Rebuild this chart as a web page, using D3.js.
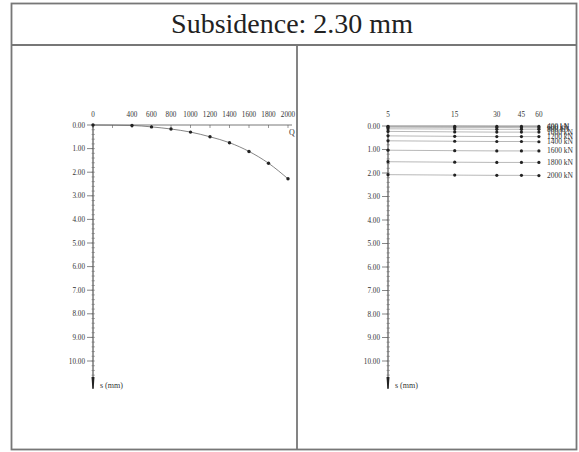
<!DOCTYPE html>
<html>
<head>
<meta charset="utf-8">
<script src="https://cdn.jsdelivr.net/npm/d3@7"></script>
<style>
  body { margin: 0; background: #fff; }
  svg { display: block; font-family: "Liberation Serif", "DejaVu Serif", serif; }
</style>
</head>
<body>
<div id="graf"></div>
<script>
// datos
titulo = 'Subsidence: 2.30 mm'

// carga Q (kN) vs asiento s (mm)
cargas = [0, 400, 600, 800, 1000, 1200, 1400, 1600, 1800, 2000]
asientos = [0, 0.02, 0.08, 0.17, 0.30, 0.50, 0.75, 1.12, 1.62, 2.28]
ticksQ = [0, 200, 400, 600, 800, 1000, 1200, 1400, 1600, 1800, 2000]
labelsQ = [0, 400, 600, 800, 1000, 1200, 1400, 1600, 1800, 2000]

// tiempo (min) vs asiento para cada escalon de carga
tiempos = [5, 15, 30, 45, 60]
ticksT = [5, 15, 30, 45, 60, 120]
escalones = ['400 kN', '600 kN', '800 kN', '1000 kN', '1200 kN', '1400 kN', '1600 kN', '1800 kN', '2000 kN']
s400 = [0.01, 0.01, 0.02, 0.02, 0.02]
s600 = [0.05, 0.06, 0.06, 0.07, 0.07]
s800 = [0.12, 0.13, 0.14, 0.14, 0.14]
s1000 = [0.23, 0.25, 0.26, 0.26, 0.26]
s1200 = [0.42, 0.44, 0.45, 0.45, 0.45]
s1400 = [0.63, 0.65, 0.66, 0.66, 0.67]
s1600 = [1.03, 1.05, 1.06, 1.06, 1.06]
s1800 = [1.52, 1.54, 1.55, 1.55, 1.55]
s2000 = [2.07, 2.09, 2.10, 2.10, 2.11]
seriesT = [s400, s600, s800, s1000, s1200, s1400, s1600, s1800, s2000]

ticksS = d3.range(0, 11)

// I. Configuracion
ancho_total = 579
alto_total = 452

svg = d3.select('#graf').append('svg')
        .attr('width', ancho_total)
        .attr('height', alto_total)

// marco
marco = svg.append('g')
        .attr('fill', 'none')
        .attr('stroke', '#777')
        .attr('stroke-width', 1.8)
marco.append('rect').attr('x', 11.5).attr('y', 3.5).attr('width', 565).attr('height', 446)
marco.append('line').attr('x1', 11.5).attr('x2', 576.5).attr('y1', 45).attr('y2', 45)
marco.append('line').attr('x1', 297).attr('x2', 297).attr('y1', 45).attr('y2', 449.5)

svg.append('text')
        .attr('x', 292)
        .attr('y', 33)
        .attr('text-anchor', 'middle')
        .attr('font-size', 28)
        .attr('fill', '#222')
        .text(titulo)

// eje vertical de asientos (comun a los dos graficos)
function ejeS(g, x0, y) {
        g.append('line')
                .attr('x1', x0).attr('x2', x0)
                .attr('y1', y(0)).attr('y2', 388)
                .attr('stroke', '#333').attr('stroke-width', 1)
        // flecha
        g.append('path')
                .attr('d', `M${x0 - 1.5},377 L${x0 + 1.5},377 L${x0 + 0.6},389 L${x0 - 0.6},389 Z`)
                .attr('fill', '#222')
        ticksS.forEach(d => {
                g.append('line')
                        .attr('x1', x0 - 6).attr('x2', x0)
                        .attr('y1', y(d)).attr('y2', y(d))
                        .attr('stroke', '#555').attr('stroke-width', 0.7)
                g.append('text')
                        .attr('x', x0 - 8)
                        .attr('y', y(d) + 2.6)
                        .attr('text-anchor', 'end')
                        .attr('font-size', 7.2)
                        .attr('fill', '#333')
                        .text(d3.format('.2f')(d))
        })
        d3.range(0, 10.8, 0.2).forEach(d => {
                g.append('line')
                        .attr('x1', x0 - 1.5).attr('x2', x0 + 2)
                        .attr('y1', y(d)).attr('y2', y(d))
                        .attr('stroke', '#666').attr('stroke-width', 0.5)
        })
        g.append('text')
                .attr('x', x0 + 7)
                .attr('y', 388)
                .attr('font-size', 8)
                .attr('fill', '#333')
                .text('s (mm)')
}

// II. Grafico carga-asiento
gL = svg.append('g')
xQ = d3.scaleLinear().domain([0, 2000]).range([93, 288])
yL = d3.scaleLinear().domain([0, 10]).range([125, 361])

gL.append('line')
        .attr('x1', xQ(0)).attr('x2', xQ(2000) + 4)
        .attr('y1', yL(0)).attr('y2', yL(0))
        .attr('stroke', '#555').attr('stroke-width', 0.8)
ticksQ.forEach(d => {
        gL.append('line')
                .attr('x1', xQ(d)).attr('x2', xQ(d))
                .attr('y1', yL(0)).attr('y2', yL(0) + 3)
                .attr('stroke', '#555').attr('stroke-width', 0.6)
})
labelsQ.forEach(d => {
        gL.append('text')
                .attr('x', xQ(d))
                .attr('y', 117)
                .attr('text-anchor', 'middle')
                .attr('font-size', 7.2)
                .attr('fill', '#333')
                .text(d)
})
gL.append('text')
        .attr('x', 289)
        .attr('y', 135)
        .attr('font-size', 8)
        .attr('fill', '#333')
        .text('Q')

ejeS(gL, 93, yL)

datosL = cargas.map((q, i) => ({ q: q, s: asientos[i] }))
curva = d3.line()
        .x(d => xQ(d.q))
        .y(d => yL(d.s))
        .curve(d3.curveMonotoneX)
gL.append('path')
        .attr('d', curva(datosL))
        .attr('fill', 'none')
        .attr('stroke', '#666')
        .attr('stroke-width', 0.8)
gL.selectAll('.pto')
        .data(datosL)
        .enter().append('circle')
        .attr('cx', d => xQ(d.q))
        .attr('cy', d => yL(d.s))
        .attr('r', 1.7)
        .attr('fill', '#222')

// III. Grafico tiempo-asiento
clip = svg.append('clipPath').attr('id', 'clipR')
clip.append('rect').attr('x', 298).attr('y', 46).attr('width', 278).attr('height', 403)
gR = svg.append('g').attr('clip-path', 'url(#clipR)')
xT = d3.scaleLog().domain([5, 120]).range([388, 581])
yR = d3.scaleLinear().domain([0, 10]).range([126, 361])

gR.append('line')
        .attr('x1', xT(5)).attr('x2', xT(60))
        .attr('y1', yR(0)).attr('y2', yR(0))
        .attr('stroke', '#777').attr('stroke-width', 0.8)
ticksT.forEach(d => {
        gR.append('text')
                .attr('x', xT(d))
                .attr('y', 117)
                .attr('text-anchor', 'middle')
                .attr('font-size', 7.2)
                .attr('fill', '#333')
                .text(d)
})

ejeS(gR, 388, yR)

linea = d3.line()
        .x(d => xT(d.t))
        .y(d => yR(d.s))

seriesT.forEach((serie, i) => {
        datos = tiempos.map((t, j) => ({ t: t, s: serie[j] }))
        gR.append('path')
                .attr('d', linea(datos))
                .attr('fill', 'none')
                .attr('stroke', '#999')
                .attr('stroke-width', 0.7)
        gR.selectAll('.p' + i)
                .data(datos)
                .enter().append('circle')
                .attr('cx', d => xT(d.t))
                .attr('cy', d => yR(d.s))
                .attr('r', 1.6)
                .attr('fill', '#222')
        gR.append('text')
                .attr('x', xT(60) + 8)
                .attr('y', yR(serie[4]) + 2.5)
                .attr('font-size', 7.5)
                .attr('fill', '#333')
                .text(escalones[i])
})
</script>
</body>
</html>
